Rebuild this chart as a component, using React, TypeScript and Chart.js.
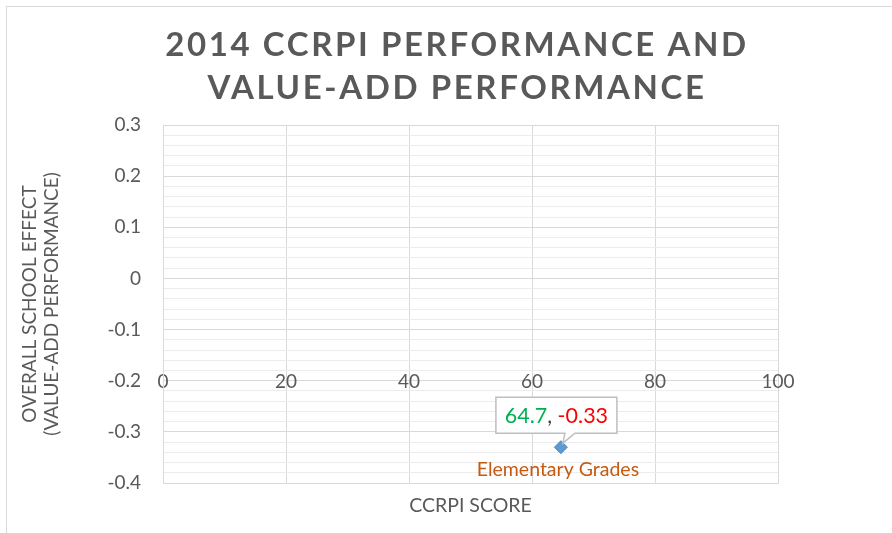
import React, { useEffect, useRef } from "react";
import { Chart, registerables } from "chart.js";

Chart.register(...registerables);

// ---- data ----
const TITLE_LINES = ["2014 CCRPI PERFORMANCE AND", "VALUE-ADD PERFORMANCE"];
const Y_TITLE = ["OVERALL SCHOOL EFFECT", "(VALUE-ADD PERFORMANCE)"];
const X_TITLE = "CCRPI SCORE";
const SERIES_NAMES = ["Elementary Grades"];
const CCRPI_SCORES = [64.7];
const SCHOOL_EFFECTS = [-0.33];
const X_MIN = 0;
const X_MAX = 100;
const X_STEP = 20;
const Y_MIN = -0.4;
const Y_MAX = 0.3;
const Y_MINOR_STEP = 0.02;
const X_AXIS_CROSS = -0.2;

const FONT = "Lato, 'Open Sans', sans-serif";
const GREY = "#595959";

const isMajor = (v: number) => Math.abs(Math.round(v * 10) - v * 10) < 1e-6;
const fmtY = (v: number) => {
  const r = Math.round(v * 10) / 10;
  return r === 0 ? "0" : String(r);
};

const titlePlugin = {
  id: "titleLines",
  beforeDraw(chart: any) {
    const ctx = chart.ctx as CanvasRenderingContext2D;
    ctx.save();
    ctx.font = `bold 33px ${FONT}`;
    ctx.fillStyle = GREY;
    ctx.textAlign = "center";
    ctx.textBaseline = "middle";
    (ctx as any).letterSpacing = "2.6px";
    TITLE_LINES.forEach((t, i) => ctx.fillText(t, 457, 45 + i * 43));
    ctx.restore();
  },
};

const calloutPlugin = {
  id: "callout",
  afterDatasetsDraw(chart: any) {
    const ctx = chart.ctx as CanvasRenderingContext2D;
    const meta = chart.getDatasetMeta(0);
    meta.data.forEach((el: any, i: number) => {
      const x = el.x;
      const y = el.y;
      const bx = x - 65;
      const by = y - 50;
      const bw = 121;
      const bh = 36;
      ctx.save();
      ctx.beginPath();
      ctx.moveTo(bx, by);
      ctx.lineTo(bx + bw, by);
      ctx.lineTo(bx + bw, by + bh);
      ctx.lineTo(x + 14, by + bh);
      ctx.lineTo(x + 2, y - 4);
      ctx.lineTo(x + 4, by + bh);
      ctx.lineTo(bx, by + bh);
      ctx.closePath();
      ctx.fillStyle = "#ffffff";
      ctx.fill();
      ctx.strokeStyle = "#bfbfbf";
      ctx.lineWidth = 1.5;
      ctx.stroke();

      const parts = [
        { t: String(CCRPI_SCORES[i]), c: "#00B050" },
        { t: ", ", c: "#404040" },
        { t: String(SCHOOL_EFFECTS[i]), c: "#FF0000" },
      ];
      ctx.font = `21.5px ${FONT}`;
      ctx.textBaseline = "middle";
      ctx.textAlign = "left";
      const total = parts.reduce((s, p) => s + ctx.measureText(p.t).width, 0);
      let tx = bx + bw / 2 - total / 2;
      parts.forEach((p) => {
        ctx.fillStyle = p.c;
        ctx.fillText(p.t, tx, by + bh / 2 + 1);
        tx += ctx.measureText(p.t).width;
      });

      ctx.font = `19.5px ${FONT}`;
      ctx.fillStyle = "#C55A11";
      ctx.textAlign = "center";
      ctx.fillText(SERIES_NAMES[i], x - 3, y + 23);
      ctx.restore();
    });
  },
};

export default function App() {
  const ref = useRef<HTMLCanvasElement | null>(null);

  useEffect(() => {
    if (!ref.current) return;
    const chart = new Chart(ref.current, {
      type: "scatter",
      data: {
        datasets: [
          {
            label: SERIES_NAMES[0],
            data: CCRPI_SCORES.map((x, i) => ({ x, y: SCHOOL_EFFECTS[i] })),
            pointStyle: "rectRot",
            pointRadius: 6.5,
            backgroundColor: "#5B9BD5",
            borderColor: "#4A88C2",
            borderWidth: 1,
          },
        ],
      },
      options: {
        responsive: false,
        animation: false,
        devicePixelRatio: 1,
        layout: { padding: { left: 10, top: 125, right: 114, bottom: 10 } },
        plugins: {
          legend: { display: false },
          tooltip: { enabled: false },
          title: { display: false },
        },
        scales: {
          x: {
            type: "linear",
            position: "bottom",
            min: X_MIN,
            max: X_MAX,
            ticks: { stepSize: X_STEP, display: false },
            grid: { color: "#d9d9d9", drawTicks: false, lineWidth: 1 },
            border: { display: true, color: "#d9d9d9" },
            title: {
              display: true,
              text: X_TITLE,
              color: GREY,
              font: { family: FONT, size: 19.5 },
              padding: { top: 0, bottom: 6 },
            },
            afterFit: (s: any) => {
              s.height = 40;
            },
          },
          xTicks: {
            type: "linear",
            position: { y: X_AXIS_CROSS },
            min: X_MIN,
            max: X_MAX,
            ticks: {
              stepSize: X_STEP,
              color: GREY,
              font: { family: FONT, size: 19 },
              padding: -10,
            },
            grid: { display: false, drawTicks: false },
            border: { display: false },
          },
          y: {
            type: "linear",
            position: "left",
            min: Y_MIN,
            max: Y_MAX,
            ticks: {
              stepSize: Y_MINOR_STEP,
              autoSkip: false,
              color: GREY,
              font: { family: FONT, size: 19 },
              padding: 22,
              callback: (v: any) => (isMajor(Number(v)) ? fmtY(Number(v)) : ""),
            },
            grid: {
              drawTicks: false,
              color: (c: any) =>
                c.tick && isMajor(c.tick.value) ? "#d9d9d9" : "#ececec",
              lineWidth: 1,
            },
            border: { display: true, color: "#d9d9d9" },
            title: {
              display: true,
              text: Y_TITLE,
              color: GREY,
              font: { family: FONT, size: 19, lineHeight: 1.15 },
              padding: { top: 9, bottom: 0 },
            },
            afterFit: (s: any) => {
              s.width = 153;
            },
          },
        },
      },
      plugins: [titlePlugin, calloutPlugin],
    } as any);
    return () => chart.destroy();
  }, []);

  return (
    <div
      style={{
        position: "fixed",
        left: 0,
        top: 0,
        width: 892,
        height: 533,
        background: "#ffffff",
        overflow: "hidden",
      }}
    >
      <div
        style={{
          position: "absolute",
          left: 6,
          top: 6,
          width: 920,
          height: 560,
          border: "1px solid #d9d9d9",
          boxSizing: "border-box",
        }}
      />
      <canvas
        ref={ref}
        width={892}
        height={533}
        style={{ position: "absolute", left: 0, top: 0, width: 892, height: 533 }}
      />
    </div>
  );
}
